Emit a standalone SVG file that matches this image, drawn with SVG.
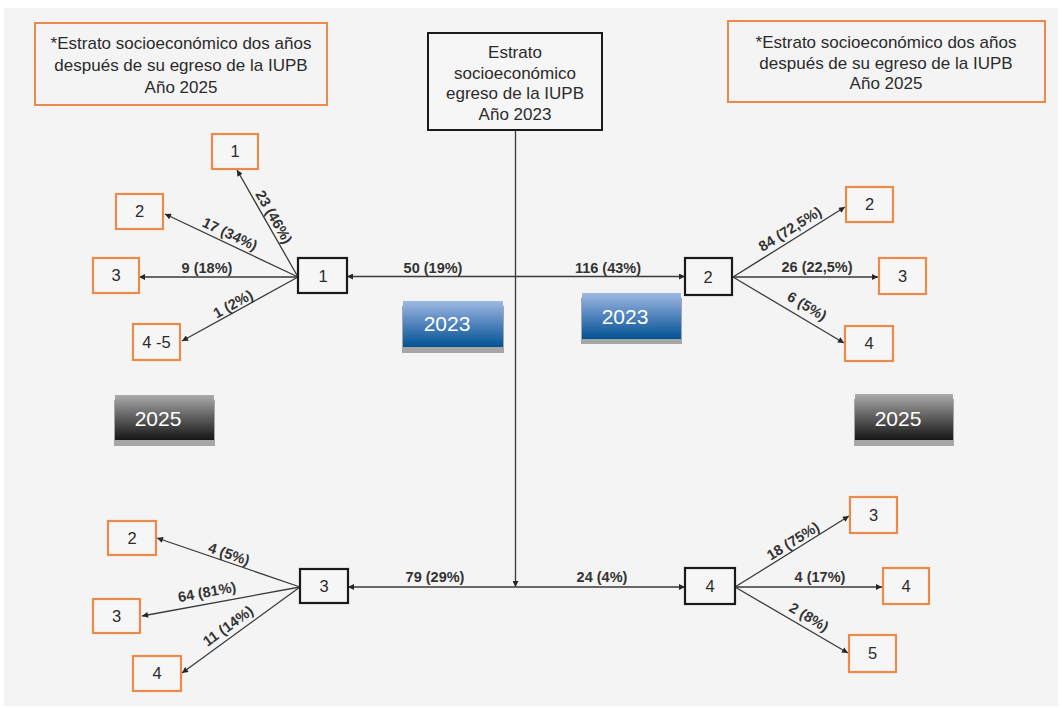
<svg xmlns="http://www.w3.org/2000/svg" width="1062" height="708" viewBox="0 0 1062 708">
<defs>
<linearGradient id="gBlue" x1="0" y1="0" x2="0" y2="1">
<stop offset="0" stop-color="#a0b9e2"/>
<stop offset="0.5" stop-color="#4f83bd"/>
<stop offset="1" stop-color="#035293"/>
</linearGradient>
<linearGradient id="gBlack" x1="0" y1="0" x2="0" y2="1">
<stop offset="0" stop-color="#ababab"/>
<stop offset="0.5" stop-color="#5e5e5e"/>
<stop offset="1" stop-color="#161616"/>
</linearGradient>
<marker id="ah" viewBox="0 0 10 10" refX="10" refY="5" markerWidth="7" markerHeight="6" markerUnits="userSpaceOnUse" orient="auto">
<path d="M0,0 L10,5 L0,10 z" fill="#262626"/>
</marker>
<style>
.bg{fill:#f4f4f4}
.note{fill:none;stroke:#ec8a4c;stroke-width:2}
.ob{fill:#f6f6f6;stroke:#ec8a4c;stroke-width:2.2}
.bb{fill:#f6f6f6;stroke:#1a1a1a;stroke-width:2.2}
.cb{fill:#f6f6f6;stroke:#1a1a1a;stroke-width:2}
.t{font-family:"Liberation Sans",Arial,sans-serif;fill:#2b2b2b;text-anchor:middle}
.nt{font-size:17px}
.num{font-size:16.5px}
.lbl{font-family:"Liberation Sans",Arial,sans-serif;font-weight:bold;font-size:14.5px;fill:#333;text-anchor:middle}
.btn{font-family:"Liberation Sans",Arial,sans-serif;font-size:21px;fill:#fff;text-anchor:middle}
.c{stroke:#3a3a3a;stroke-width:1.3;fill:none}
.sh{fill:#a6a6a6}
</style>
</defs>
<rect x="0" y="0" width="1062" height="708" fill="#ffffff"/>
<rect class="bg" x="4" y="8" width="1054" height="698"/>

<g id="connectors">
<line class="c" x1="515.5" y1="130" x2="515.5" y2="587" marker-end="url(#ah)"/>
<line class="c" x1="515.5" y1="276.5" x2="347" y2="276.5" marker-end="url(#ah)"/>
<line class="c" x1="515.5" y1="276.5" x2="685" y2="276.5" marker-end="url(#ah)"/>
<line class="c" x1="515.5" y1="587" x2="348" y2="587" marker-end="url(#ah)"/>
<line class="c" x1="515.5" y1="587" x2="685" y2="587" marker-end="url(#ah)"/>
<line class="c" x1="298" y1="277" x2="237" y2="170" marker-end="url(#ah)"/>
<line class="c" x1="298" y1="277" x2="165" y2="214" marker-end="url(#ah)"/>
<line class="c" x1="298" y1="277" x2="139" y2="277" marker-end="url(#ah)"/>
<line class="c" x1="298" y1="277" x2="182" y2="341" marker-end="url(#ah)"/>
<line class="c" x1="733" y1="277" x2="845" y2="207" marker-end="url(#ah)"/>
<line class="c" x1="733" y1="277" x2="878" y2="277" marker-end="url(#ah)"/>
<line class="c" x1="733" y1="277" x2="844" y2="343" marker-end="url(#ah)"/>
<line class="c" x1="300" y1="587" x2="157" y2="538" marker-end="url(#ah)"/>
<line class="c" x1="300" y1="587" x2="142" y2="616" marker-end="url(#ah)"/>
<line class="c" x1="300" y1="587" x2="182" y2="673" marker-end="url(#ah)"/>
<line class="c" x1="735" y1="587" x2="849" y2="516" marker-end="url(#ah)"/>
<line class="c" x1="735" y1="587" x2="882" y2="587" marker-end="url(#ah)"/>
<line class="c" x1="735" y1="587" x2="848" y2="653" marker-end="url(#ah)"/>
<text class="lbl" x="433" y="273">50 (19%)</text>
<text class="lbl" x="608" y="273">116 (43%)</text>
<text class="lbl" x="435" y="582">79 (29%)</text>
<text class="lbl" x="602" y="582">24 (4%)</text>
<text class="lbl" transform="translate(274,217) rotate(60.3)" y="5">23 (46%)</text>
<text class="lbl" transform="translate(230,234) rotate(25.3)" y="5">17 (34%)</text>
<text class="lbl" x="207" y="273">9 (18%)</text>
<text class="lbl" transform="translate(233,304) rotate(-28.9)" y="5">1 (2%)</text>
<text class="lbl" transform="translate(790,229) rotate(-32)" y="5">84 (72,5%)</text>
<text class="lbl" x="817" y="272">26 (22,5%)</text>
<text class="lbl" transform="translate(807,306) rotate(30.7)" y="5">6 (5%)</text>
<text class="lbl" transform="translate(229,554) rotate(18.9)" y="5">4 (5%)</text>
<text class="lbl" transform="translate(207,592) rotate(-10.4)" y="5">64 (81%)</text>
<text class="lbl" transform="translate(228,626) rotate(-36)" y="5">11 (14%)</text>
<text class="lbl" transform="translate(793,541) rotate(-31.9)" y="5">18 (75%)</text>
<text class="lbl" x="820" y="582">4 (17%)</text>
<text class="lbl" transform="translate(809,617) rotate(30.3)" y="5">2 (8%)</text>
</g>

<g id="note-left">
<rect class="note" x="35" y="23" width="292" height="82"/>
<text class="t nt" x="181" y="49">*Estrato socioeconómico dos años</text>
<text class="t nt" x="181" y="71">después de su egreso de la IUPB</text>
<text class="t nt" x="181" y="93">Año 2025</text>
</g>
<g id="note-right">
<rect class="note" x="728" y="21" width="317" height="81"/>
<text class="t nt" x="886" y="48">*Estrato socioeconómico dos años</text>
<text class="t nt" x="886" y="69">después de su egreso de la IUPB</text>
<text class="t nt" x="886" y="89">Año 2025</text>
</g>
<g id="center">
<rect class="cb" x="428" y="33" width="174" height="97"/>
<text class="t nt" x="515" y="58">Estrato</text>
<text class="t nt" x="515" y="79">socioeconómico</text>
<text class="t nt" x="515" y="99">egreso de la IUPB</text>
<text class="t nt" x="515" y="120">Año 2023</text>
</g>

<g id="n1"><rect class="bb" x="298" y="258" width="49" height="35"/><text class="t num" x="323" y="282">1</text></g>
<g id="n2"><rect class="bb" x="685" y="258" width="47" height="37"/><text class="t num" x="708" y="283">2</text></g>
<g id="n3"><rect class="bb" x="300" y="569" width="48" height="34"/><text class="t num" x="324" y="592">3</text></g>
<g id="n4"><rect class="bb" x="685" y="568" width="50" height="36"/><text class="t num" x="710" y="592">4</text></g>

<g id="o1-1"><rect class="ob" x="212" y="134" width="46" height="35"/><text class="t num" x="235" y="157">1</text></g>
<g id="o1-2"><rect class="ob" x="116" y="194" width="47" height="35"/><text class="t num" x="139.5" y="217">2</text></g>
<g id="o1-3"><rect class="ob" x="93" y="258" width="46" height="35"/><text class="t num" x="116" y="281">3</text></g>
<g id="o1-45"><rect class="ob" x="133" y="324" width="47" height="36"/><text class="t num" x="156.5" y="348">4 -5</text></g>

<g id="o2-2"><rect class="ob" x="846" y="187" width="47" height="35"/><text class="t num" x="869.5" y="210">2</text></g>
<g id="o2-3"><rect class="ob" x="879" y="258" width="47" height="36"/><text class="t num" x="902.5" y="282">3</text></g>
<g id="o2-4"><rect class="ob" x="845" y="326" width="48" height="35"/><text class="t num" x="869" y="349">4</text></g>

<g id="o3-2"><rect class="ob" x="108" y="521" width="48" height="34"/><text class="t num" x="132" y="544">2</text></g>
<g id="o3-3"><rect class="ob" x="93" y="599" width="47" height="34"/><text class="t num" x="116.5" y="622">3</text></g>
<g id="o3-4"><rect class="ob" x="133" y="656" width="48" height="35"/><text class="t num" x="157" y="679">4</text></g>

<g id="o4-3"><rect class="ob" x="850" y="497" width="47" height="36"/><text class="t num" x="873.5" y="521">3</text></g>
<g id="o4-4"><rect class="ob" x="883" y="568" width="46" height="36"/><text class="t num" x="906" y="592">4</text></g>
<g id="o4-5"><rect class="ob" x="849" y="635" width="47" height="37"/><text class="t num" x="872.5" y="659">5</text></g>

<g id="btn2023-left">
<rect class="sh" x="402" y="306" width="102" height="47"/>
<rect x="403" y="301" width="100" height="46" fill="url(#gBlue)"/>
<text class="btn" x="447" y="331">2023</text>
</g>
<g id="btn2023-right">
<rect class="sh" x="581" y="298" width="101" height="46"/>
<rect x="582" y="293" width="99" height="46" fill="url(#gBlue)"/>
<text class="btn" x="625" y="324">2023</text>
</g>
<g id="btn2025-left">
<rect class="sh" x="114" y="400" width="101" height="46"/>
<rect x="115" y="395" width="99" height="45" fill="url(#gBlack)"/>
<text class="btn" x="158" y="426" fill="#f2f2f2">2025</text>
</g>
<g id="btn2025-right">
<rect class="sh" x="854" y="399" width="100" height="47"/>
<rect x="855" y="394" width="98" height="46" fill="url(#gBlack)"/>
<text class="btn" x="898" y="426" fill="#f2f2f2">2025</text>
</g>
</svg>
